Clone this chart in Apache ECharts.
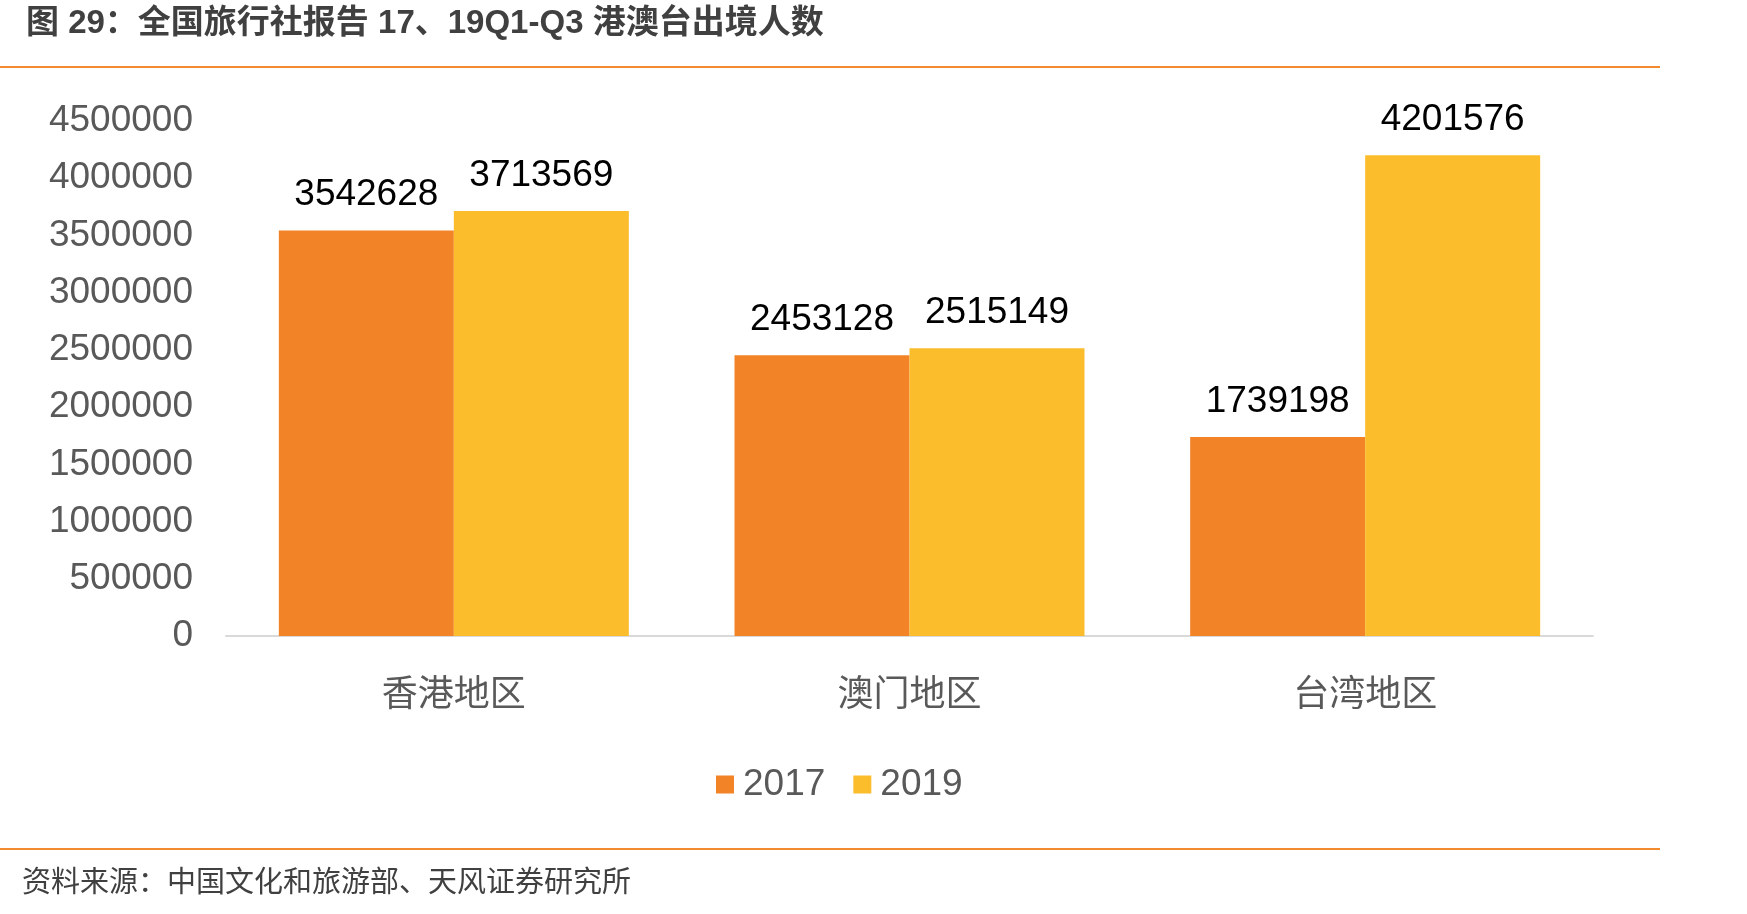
<!DOCTYPE html>
<html>
<head>
<meta charset="utf-8">
<script src="https://cdn.jsdelivr.net/npm/echarts@6/dist/echarts.min.js"></script>
<style>
  html, body { margin: 0; padding: 0; background: #fff; }
  #main { width: 1747px; height: 914px; }
</style>
</head>
<body>
<div id="main"></div>
<script>
// 数据
const categories = ['香港地区', '澳门地区', '台湾地区']
const seriesNames = ['2017', '2019']
const values2017 = [3542628, 2453128, 1739198]
const values2019 = [3713569, 2515149, 4201576]

const FONT = '"Liberation Sans", Arial, "Noto Sans CJK SC", sans-serif'
const CJK = '"Noto Sans CJK SC", "Liberation Sans", sans-serif'

const chart = echarts.init(document.getElementById('main'))

const option = {
  backgroundColor: '#fff',
  animation: false,
  color: ['#F28327', '#FBBD2C'],
  title: {
    text: '图 29：全国旅行社报告 17、19Q1-Q3 港澳台出境人数',
    left: 21,
    top: 2,
    textStyle: {
      fontFamily: FONT,
      fontSize: 33,
      fontWeight: 'bold',
      color: '#404040'
    }
  },
  graphic: [
    {
      type: 'rect',
      shape: { x: 0, y: 66, width: 1660, height: 2 },
      style: { fill: '#F28A30' }
    },
    {
      type: 'rect',
      shape: { x: 0, y: 848, width: 1660, height: 2 },
      style: { fill: '#F28A30' }
    },
    {
      type: 'text',
      left: 22,
      top: 866,
      style: {
        text: '资料来源：中国文化和旅游部、天风证券研究所',
        font: '29px ' + CJK,
        fill: '#404040'
      }
    }
  ],
  legend: {
    data: seriesNames,
    left: 711,
    top: 761,
    itemWidth: 18,
    itemHeight: 18,
    itemGap: 28,
    icon: 'rect',
    textStyle: {
      fontFamily: FONT,
      fontSize: 37,
      color: '#595959',
      padding: [0, 0, 0, 4]
    }
  },
  grid: {
    left: 226,
    right: 154,
    top: 121,
    bottom: 278,
    containLabel: false
  },
  xAxis: {
    type: 'category',
    data: categories,
    axisTick: { show: false },
    axisLine: { lineStyle: { color: '#D9D9D9', width: 2 } },
    axisLabel: {
      margin: 38,
      fontFamily: CJK,
      fontSize: 36,
      color: '#595959'
    }
  },
  yAxis: {
    type: 'value',
    min: 0,
    max: 4500000,
    interval: 500000,
    axisLine: { show: false },
    axisTick: { show: false },
    splitLine: { show: false },
    axisLabel: {
      margin: 33,
      fontFamily: FONT,
      fontSize: 37,
      color: '#595959',
      padding: [8, 0, 0, 0],
      formatter: function (value) {
        return String(value)
      }
    }
  },
  series: [
    {
      name: seriesNames[0],
      type: 'bar',
      data: values2017,
      barWidth: 175,
      barGap: '0%',
      label: {
        show: true,
        position: 'top',
        distance: 17,
        fontFamily: FONT,
        fontSize: 37,
        color: '#000'
      }
    },
    {
      name: seriesNames[1],
      type: 'bar',
      data: values2019,
      barWidth: 175,
      barGap: '0%',
      label: {
        show: true,
        position: 'top',
        distance: 17,
        fontFamily: FONT,
        fontSize: 37,
        color: '#000'
      }
    }
  ]
}

chart.setOption(option)
</script>
</body>
</html>
